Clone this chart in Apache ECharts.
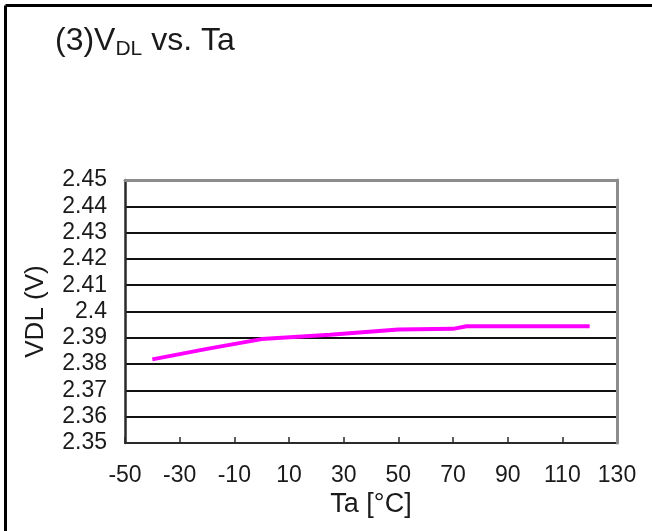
<!DOCTYPE html>
<html>
<head>
<meta charset="utf-8">
<script src="https://cdn.jsdelivr.net/npm/echarts@6/dist/echarts.min.js"></script>
<style>
  html, body { margin: 0; padding: 0; background: #fff; }
  #chart { width: 652px; height: 531px; }
</style>
</head>
<body>
<div id="chart"></div>
<script>
const temps = [-40, -20, 0, 25, 50, 70, 75, 120];
const vdl = [2.3818, 2.3858, 2.3895, 2.3912, 2.3932, 2.3934, 2.3944, 2.3944];

const xTicks = { min: -50, max: 130, step: 20 };
const yTicks = { min: 2.35, max: 2.45, step: 0.01 };

const chart = echarts.init(document.getElementById('chart'));

const font = 'Liberation Sans, Arial, sans-serif';

chart.setOption({
    backgroundColor: '#ffffff',
    animation: false,
    title: {
        left: 50,
        top: 17,
        text: '{a|(3)V}{s|DL}{a| vs. Ta}',
        textStyle: {
            rich: {
                a: { fontFamily: font, fontSize: 32, fontWeight: 'normal', color: '#1a1a1a', lineHeight: 38 },
                s: { fontFamily: font, fontSize: 21, fontWeight: 'normal', color: '#1a1a1a', lineHeight: 21, verticalAlign: 'bottom' }
            }
        }
    },
    grid: {
        left: 125,
        right: 35,
        top: 180,
        bottom: 88
    },
    xAxis: [
        {
            type: 'value',
            position: 'bottom',
            min: xTicks.min,
            max: xTicks.max,
            interval: xTicks.step,
            name: 'Ta [°C]',
            nameLocation: 'middle',
            nameGap: 48,
            nameTextStyle: { fontFamily: font, fontSize: 27, color: '#1a1a1a' },
            axisLine: { onZero: false, lineStyle: { color: '#2a2a2a', width: 2 } },
            axisTick: { show: true, inside: true, length: 6, lineStyle: { color: '#2a2a2a', width: 1.5 } },
            axisLabel: { fontFamily: font, fontSize: 23, color: '#1a1a1a', margin: 21 },
            splitLine: { show: false }
        },
        {
            type: 'value',
            position: 'top',
            min: xTicks.min,
            max: xTicks.max,
            z: 3,
            axisLine: { onZero: false, lineStyle: { color: '#8c8c8c', width: 3 } },
            axisTick: { show: false },
            axisLabel: { show: false },
            splitLine: { show: false }
        }
    ],
    yAxis: [
        {
            type: 'value',
            position: 'left',
            min: yTicks.min,
            max: yTicks.max,
            interval: yTicks.step,
            name: 'VDL (V)',
            nameLocation: 'middle',
            nameGap: 76,
            nameTextStyle: { fontFamily: font, fontSize: 26, color: '#1a1a1a' },
            axisLine: { show: true, onZero: false, lineStyle: { color: '#2a2a2a', width: 2.5 } },
            axisTick: { show: false },
            axisLabel: {
                fontFamily: font,
                fontSize: 23,
                color: '#1a1a1a',
                margin: 18,
                formatter: (v) => String(+v.toFixed(2))
            },
            splitLine: { show: true, lineStyle: { color: '#111111', width: 2 } }
        },
        {
            type: 'value',
            position: 'right',
            min: yTicks.min,
            max: yTicks.max,
            z: 3,
            axisLine: { show: true, onZero: false, lineStyle: { color: '#8c8c8c', width: 3 } },
            axisTick: { show: false },
            axisLabel: { show: false },
            splitLine: { show: false }
        }
    ],
    graphic: [
        {
            type: 'line',
            shape: { x1: 5.5, y1: 5.5, x2: 652, y2: 5.5 },
            style: { stroke: '#000', lineWidth: 3 }
        },
        {
            type: 'line',
            shape: { x1: 5.5, y1: 5.5, x2: 5.5, y2: 531 },
            style: { stroke: '#000', lineWidth: 3 }
        }
    ],
    series: [
        {
            name: 'VDL',
            type: 'line',
            data: temps.map((t, i) => [t, vdl[i]]),
            symbol: 'none',
            smooth: false,
            z: 5,
            lineStyle: { color: '#ff00ff', width: 4 }
        }
    ]
});

window.addEventListener('resize', () => {
    chart && chart.resize();
});
</script>
</body>
</html>
